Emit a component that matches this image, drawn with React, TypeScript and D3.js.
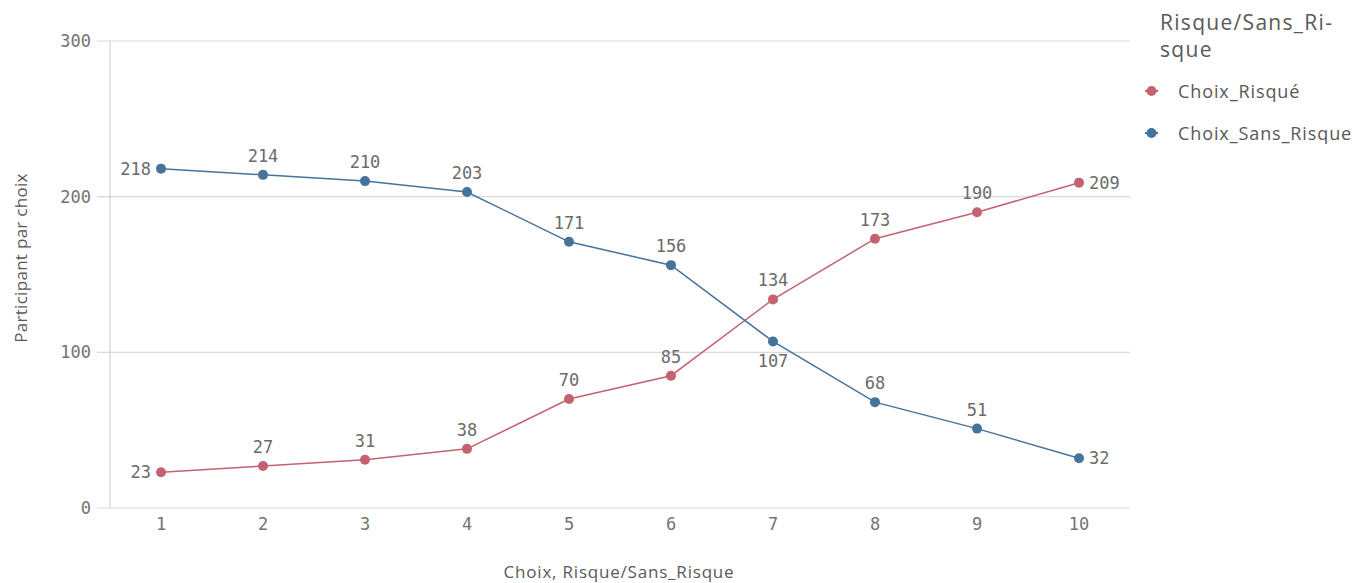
import React from "react";
import * as d3 from "d3";

const categories = ["1", "2", "3", "4", "5", "6", "7", "8", "9", "10"];
const risque = [23, 27, 31, 38, 70, 85, 134, 173, 190, 209];
const sansRisque = [218, 214, 210, 203, 171, 156, 107, 68, 51, 32];
const yTicks = [0, 100, 200, 300];
const seriesNames = ["Choix_Risqué", "Choix_Sans_Risque"];
const seriesColors = ["#c4626f", "#44739c"];

const W = 1371, H = 583;
const left = 110, right = 1130, top = 41, bottom = 508;
const MONO = "'DejaVu Sans Mono', monospace";
const SANS = "'Open Sans', Roboto, sans-serif";

export default function App() {
  const x = d3.scaleBand<string>().domain(categories).range([left, right]);
  const cx = (c: string) => (x(c) as number) + x.bandwidth() / 2;
  const y = d3.scaleLinear().domain([0, 300]).range([bottom, top]);
  const series = [risque, sansRisque];
  const line = d3
    .line<number>()
    .x((_, i) => cx(categories[i]))
    .y((d) => y(d));

  const labelFor = (si: number, i: number) => {
    const v = series[si][i];
    const other = series[1 - si][i];
    const px = cx(categories[i]);
    const py = y(v);
    if (i === 0) return { x: px - 10, y: py, anchor: "end" };
    if (i === categories.length - 1) return { x: px + 10, y: py, anchor: "start" };
    if (other > v && other - v < 40) return { x: px, y: py + 20, anchor: "middle" };
    return { x: px, y: py - 19, anchor: "middle" };
  };

  return (
    <svg width={W} height={H} style={{ position: "absolute", left: 0, top: 0, background: "#fff" }}>
      {yTicks.map((t) => (
        <g key={t}>
          <line x1={97} x2={right} y1={y(t)} y2={y(t)} stroke="#d9d9d9" strokeWidth={1.2} />
          <text x={91} y={y(t)} textAnchor="end" dominantBaseline="central" fontFamily={MONO} fontSize={17} fill="#737373">
            {t}
          </text>
        </g>
      ))}
      <line x1={left} x2={left} y1={top} y2={bottom} stroke="#d0d0d0" strokeWidth={1.2} />
      {categories.map((c) => (
        <text key={c} x={cx(c)} y={524} textAnchor="middle" dominantBaseline="central" fontFamily={MONO} fontSize={17} fill="#737373">
          {c}
        </text>
      ))}
      <text x={619} y={571} textAnchor="middle" dominantBaseline="central" fontFamily={SANS} fontSize={17} letterSpacing={0.8} fill="#595959">
        Choix, Risque/Sans_Risque
      </text>
      <text
        transform={`translate(20,${258}) rotate(-90)`}
        textAnchor="middle"
        dominantBaseline="central"
        fontFamily={SANS}
        fontSize={17}
        letterSpacing={0.3}
        fill="#595959"
      >
        Participant par choix
      </text>
      {series.map((s, si) => (
        <g key={si}>
          <path d={line(s) || ""} fill="none" stroke={seriesColors[si]} strokeWidth={1.5} />
          {s.map((v, i) => (
            <circle key={i} cx={cx(categories[i])} cy={y(v)} r={5} fill={seriesColors[si]} />
          ))}
        </g>
      ))}
      {series.map((s, si) =>
        s.map((v, i) => {
          const l = labelFor(si, i);
          return (
            <text
              key={`${si}-${i}`}
              x={l.x}
              y={l.y}
              textAnchor={l.anchor as any}
              dominantBaseline="central"
              fontFamily={MONO}
              fontSize={17}
              fill="#6b6b6b"
            >
              {v}
            </text>
          );
        })
      )}
      <text x={1160} y={22} dominantBaseline="central" fontFamily={SANS} fontSize={21} letterSpacing={1.3} fill="#595959">
        Risque/Sans_Ri-
      </text>
      <text x={1160} y={49} dominantBaseline="central" fontFamily={SANS} fontSize={21} letterSpacing={1.3} fill="#595959">
        sque
      </text>
      {seriesNames.map((n, i) => {
        const ly = 91 + i * 42;
        return (
          <g key={n}>
            <line x1={1145} x2={1158} y1={ly} y2={ly} stroke={seriesColors[i]} strokeWidth={2} />
            <circle cx={1151.5} cy={ly} r={5} fill={seriesColors[i]} />
            <text x={1178} y={ly} dominantBaseline="central" fontFamily={SANS} fontSize={18} letterSpacing={0.9} fill="#595959">
              {n}
            </text>
          </g>
        );
      })}
    </svg>
  );
}
